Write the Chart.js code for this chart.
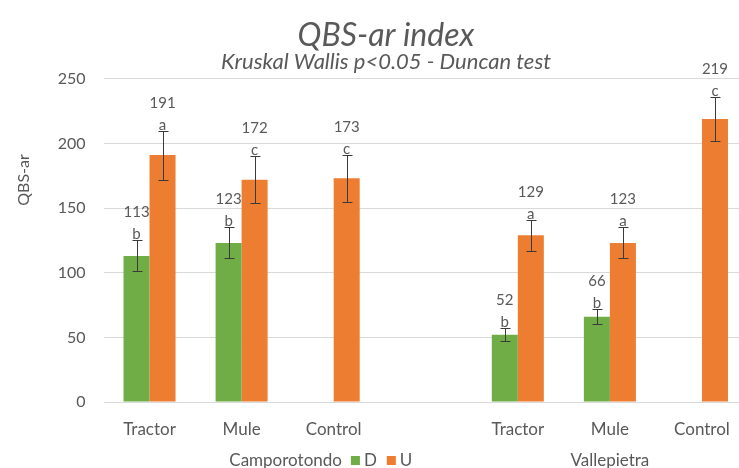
<!DOCTYPE html>
<html>
<head>
<meta charset="utf-8">
<title>QBS-ar index</title>
<script src="https://cdn.jsdelivr.net/npm/chart.js@4"></script>
<style>
  html, body { margin: 0; padding: 0; background: #fff; overflow: hidden; }
  #wrap { width: 772px; height: 468px; }
</style>
</head>
<body>
<div id="wrap"><canvas id="chart"></canvas></div>
<script>
// values; slot 3 is the empty gap between the two sites
const categories = ['Tractor', 'Mule', 'Control', '', 'Tractor', 'Mule', 'Control'];
const groups = ['Camporotondo', 'Vallepietra'];
const seriesNames = ['D', 'U'];
const valuesD = [113, 123, null, null, 52, 66, null];
const valuesU = [191, 172, 173, null, 129, 123, 219];
const errorD = [12, 12, null, null, 5, 6, null];
const errorU = [19, 18, 18, null, 12, 12, 17];
const lettersD = ['b', 'b', '', '', 'b', 'b', ''];
const lettersU = ['a', 'c', 'c', '', 'a', 'a', 'c'];
const yTicks = [0, 50, 100, 150, 200, 250];

const textColor = '#595959';
const green = '#70AD47';
const orange = '#ED7D31';

Chart.defaults.font.family = 'Lato';
Chart.defaults.color = textColor;

// error bars + "value / letter" labels above each cap
const errorBars = {
  id: 'errorBars',
  afterDatasetsDraw(chart) {
    const ctx = chart.ctx;
    const y = chart.scales.y;
    chart.data.datasets.forEach((ds, i) => {
      chart.getDatasetMeta(i).data.forEach((bar, j) => {
        const v = ds.data[j];
        if (v == null) return;
        const e = ds.errors[j];
        const x = Math.round(bar.x) + 0.5;
        const top = Math.round(y.getPixelForValue(v + e)) + 0.5;
        const bottom = Math.round(y.getPixelForValue(v - e)) + 0.5;
        ctx.save();
        ctx.strokeStyle = '#3a3a3a';
        ctx.lineWidth = 1;
        ctx.beginPath();
        ctx.moveTo(x, top); ctx.lineTo(x, bottom);
        ctx.moveTo(x - 5, top); ctx.lineTo(x + 5, top);
        ctx.moveTo(x - 5, bottom); ctx.lineTo(x + 5, bottom);
        ctx.stroke();
        ctx.fillStyle = textColor;
        ctx.font = '15px Lato';
        ctx.textAlign = 'center';
        ctx.textBaseline = 'middle';
        ctx.fillText(ds.letters[j], bar.x, top - 6);
        ctx.fillText(String(v), bar.x, top - 28);
        ctx.restore();
      });
    });
  }
};

// site names under the category labels, legend squares next to the first one,
// and the y axis title
const extras = {
  id: 'extras',
  afterDraw(chart) {
    const ctx = chart.ctx;
    const x = chart.scales.x;
    ctx.save();
    ctx.fillStyle = textColor;
    ctx.font = '17px Lato';
    ctx.textBaseline = 'middle';
    ctx.textAlign = 'center';
    const gy = 461;
    const c1 = (x.getPixelForValue(0) + x.getPixelForValue(2)) / 2 + 44;
    const c2 = (x.getPixelForValue(4) + x.getPixelForValue(6)) / 2;
    ctx.fillText(groups[0], c1, gy);
    ctx.fillText(groups[1], c2, gy);

    let lx = c1 + ctx.measureText(groups[0]).width / 2 + 9;
    ctx.textAlign = 'left';
    chart.data.datasets.forEach((ds, i) => {
      ctx.fillStyle = ds.backgroundColor;
      ctx.fillRect(lx, gy - 5, 9, 9);
      ctx.fillStyle = textColor;
      ctx.fillText(seriesNames[i], lx + 13, gy);
      lx += 13 + ctx.measureText(seriesNames[i]).width + 10;
    });

    ctx.translate(24, 180);
    ctx.rotate(-Math.PI / 2);
    ctx.textAlign = 'center';
    ctx.font = '16px Lato';
    ctx.fillText('QBS-ar', 0, 0);
    ctx.restore();
  }
};

new Chart(document.getElementById('chart'), {
  type: 'bar',
  data: {
    labels: categories,
    datasets: [
      { label: seriesNames[0], data: valuesD, errors: errorD, letters: lettersD, backgroundColor: green },
      { label: seriesNames[1], data: valuesU, errors: errorU, letters: lettersU, backgroundColor: orange }
    ]
  },
  options: {
    responsive: true,
    maintainAspectRatio: false,
    animation: false,
    layout: { padding: { left: 24, right: 24, top: 0, bottom: 0 } },
    datasets: { bar: { categoryPercentage: 0.565, barPercentage: 1 } },
    plugins: {
      legend: { display: false },
      tooltip: { enabled: false },
      title: {
        display: true,
        text: 'QBS-ar index',
        color: textColor,
        font: { size: 32, style: 'italic', weight: 'normal', lineHeight: 0.9 },
        padding: { top: 21, bottom: 0 }
      },
      subtitle: {
        display: true,
        text: 'Kruskal Wallis p<0.05 - Duncan test',
        color: textColor,
        font: { size: 22, style: 'italic', weight: 'normal', lineHeight: 1 },
        padding: { top: 1, bottom: 6 }
      }
    },
    scales: {
      x: {
        grid: { display: false },
        border: { display: false },
        ticks: { font: { size: 17 }, padding: 9, maxRotation: 0, autoSkip: false },
        afterFit(scale) { scale.height = 66; }
      },
      y: {
        min: 0,
        max: 250,
        afterBuildTicks(scale) { scale.ticks = yTicks.map(v => ({ value: v })); },
        grid: { color: '#D9D9D9', drawTicks: false },
        border: { display: false },
        ticks: { font: { size: 16 }, padding: 18 },
        afterFit(scale) { scale.width = 79.5; }
      }
    }
  },
  plugins: [errorBars, extras]
});
</script>
</body>
</html>
